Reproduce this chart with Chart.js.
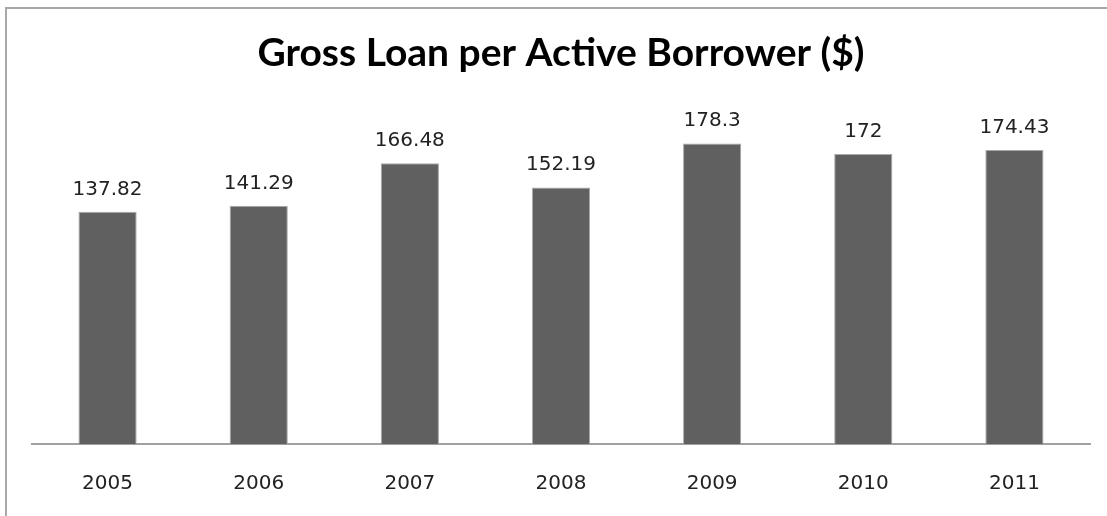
<!DOCTYPE html>
<html>
<head>
<meta charset="utf-8">
<script src="https://cdn.jsdelivr.net/npm/chart.js@4"></script>
<style>
  html, body { margin: 0; padding: 0; background: #fff; overflow: hidden; }
  #frame {
    position: absolute; left: 5px; top: 7px; width: 1200px; height: 600px;
    border-left: 2px solid #a8a8a8; border-top: 2px solid #a8a8a8;
  }
  #barChart { position: absolute; left: 0; top: 0; }
</style>
</head>
<body>
<div id="frame"></div>
<canvas id="barChart" width="1107" height="516"></canvas>
<script>
const years = ["2005", "2006", "2007", "2008", "2009", "2010", "2011"];
const loanPerBorrower = [137.82, 141.29, 166.48, 152.19, 178.3, 172, 174.43];
const valueLabels = ["137.82", "141.29", "166.48", "152.19", "178.3", "172", "174.43"];

// draws the value above each bar
const barValues = {
  id: "barValues",
  afterDatasetsDraw(chart) {
    const ctx = chart.ctx;
    const meta = chart.getDatasetMeta(0);
    ctx.save();
    ctx.font = "20px 'DejaVu Sans'";
    ctx.fillStyle = "#222";
    ctx.textAlign = "center";
    ctx.textBaseline = "alphabetic";
    meta.data.forEach((bar, i) => {
      ctx.fillText(valueLabels[i], bar.x, bar.y - 17);
    });
    ctx.restore();
  },
};

function mainEvent() {
  const bar = document.querySelector("#barChart");
  new Chart(bar, {
    type: "bar",
    data: {
      labels: years,
      datasets: [
        {
          label: "Gross Loan per Active Borrower ($)",
          data: loanPerBorrower,
          backgroundColor: "#606060",
          borderColor: "#a9a9a9",
          borderWidth: 1,
          categoryPercentage: 1,
          barPercentage: 0.385,
        },
      ],
    },
    options: {
      responsive: false,
      animation: false,
      devicePixelRatio: 1,
      layout: {
        padding: { left: 32, right: 17, top: 0, bottom: 0 },
      },
      scales: {
        y: {
          display: false,
          min: 0,
          max: 200,
        },
        x: {
          grid: { display: false, drawTicks: false },
          border: { display: true, color: "#a0a0a0", width: 2 },
          ticks: {
            padding: 28,
            color: "#222",
            font: { family: "DejaVu Sans", size: 20 },
          },
          // fixed axis height so the baseline sits where the original has it
          afterFit(scale) {
            scale.height = 72;
          },
        },
      },
      plugins: {
        legend: { display: false },
        tooltip: { enabled: false },
        title: {
          display: true,
          text: "Gross Loan per Active Borrower ($)",
          color: "#000",
          font: { family: "Lato", size: 39, weight: "bold" },
          padding: { top: 30, bottom: 30 },
        },
      },
    },
    plugins: [barValues],
  });
}
document.addEventListener("DOMContentLoaded", () => mainEvent());
</script>
</body>
</html>
